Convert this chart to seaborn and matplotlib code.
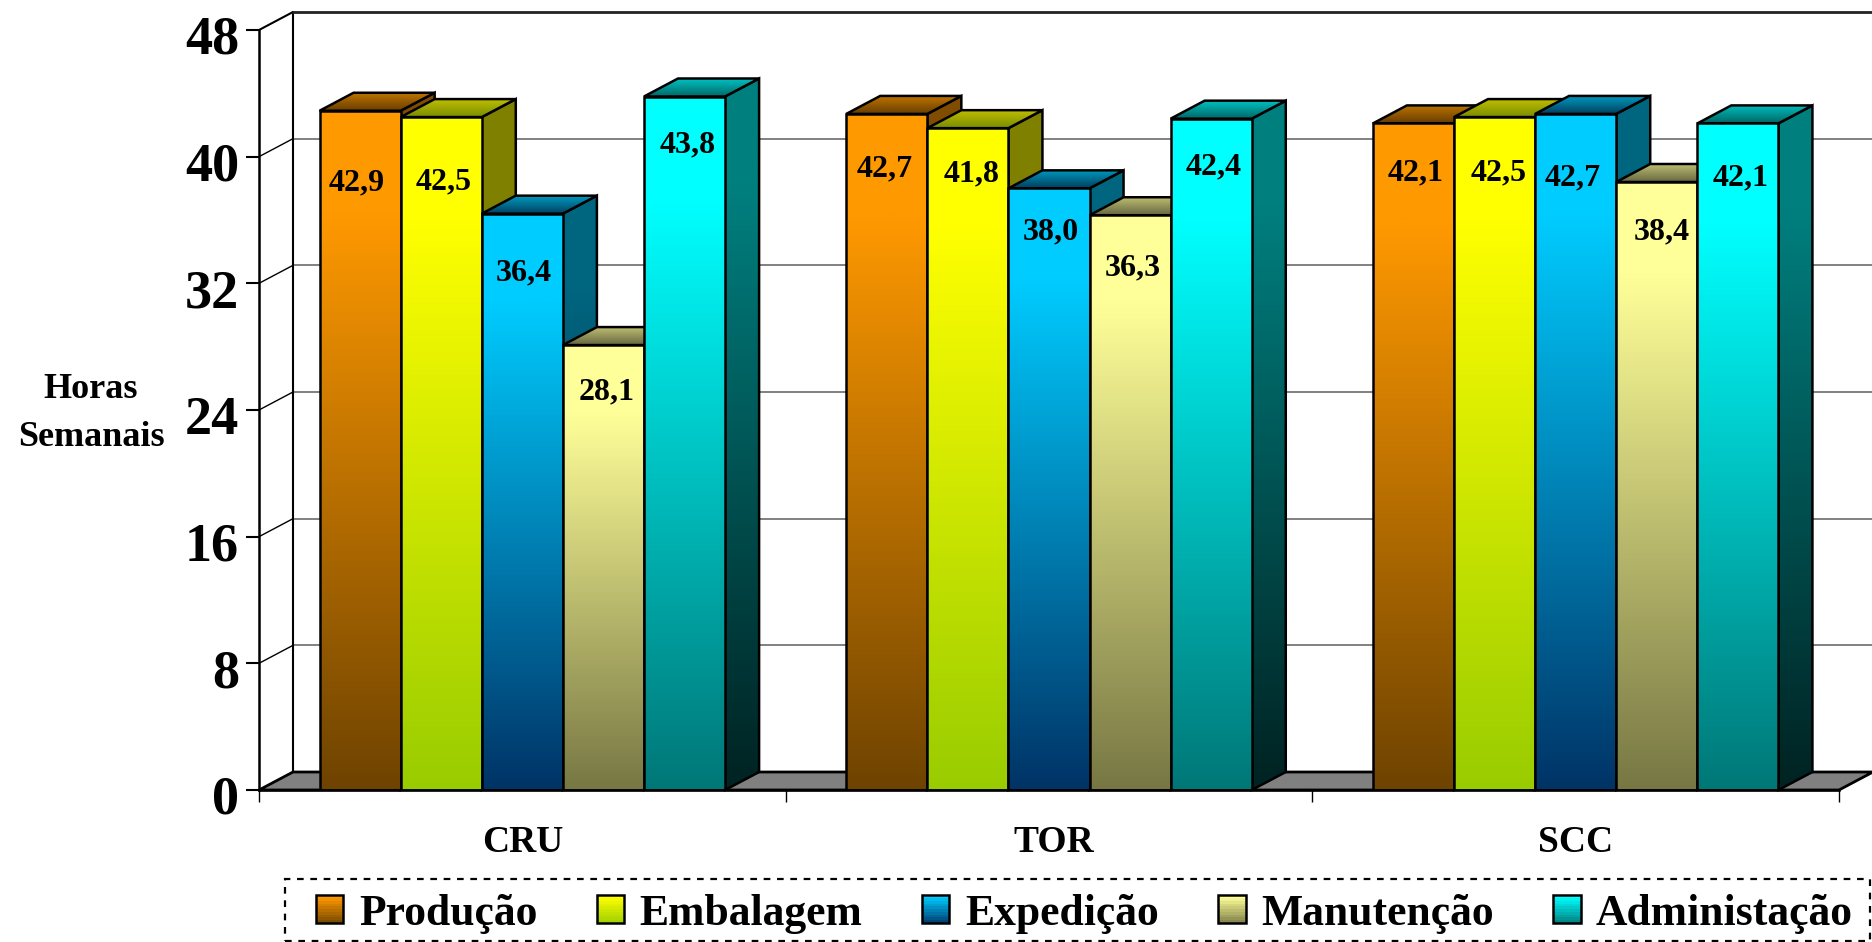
import numpy as np
import pandas as pd
import seaborn as sns
import matplotlib.pyplot as plt
from matplotlib.colors import to_rgb
from matplotlib.legend_handler import HandlerBase
from matplotlib.patches import Patch, Polygon, Rectangle
from matplotlib.transforms import ScaledTranslation

units = ['CRU', 'TOR', 'SCC']
sectors = ['Produção', 'Embalagem', 'Expedição', 'Manutenção', 'Administação']
producao = [42.9, 42.7, 42.1]
embalagem = [42.5, 41.8, 42.5]
expedicao = [36.4, 38.0, 42.7]
manutencao = [28.1, 36.3, 38.4]
administracao = [43.8, 42.4, 42.1]
value_labels = [
    ['42,9', '42,7', '42,1'],
    ['42,5', '41,8', '42,5'],
    ['36,4', '38,0', '42,7'],
    ['28,1', '36,3', '38,4'],
    ['43,8', '42,4', '42,1'],
]
yticks = [0, 8, 16, 24, 32, 40, 48]

# colours per sector: front top/bottom, side top/bottom, roof back/front
front_top = ['#FF9900', '#FFFF00', '#00CCFF', '#FFFF99', '#00FFFF']
front_bottom = ['#6E4300', '#99CC00', '#003366', '#777744', '#007777']
side_top = ['#804D00', '#808000', '#006680', '#808050', '#007F7F']
side_bottom = ['#2A1A00', '#4D6600', '#001A33', '#3C3C22', '#002222']
roof_back = ['#BF7300', '#BFBF00', '#0099BF', '#BFBF73', '#00BFBF']
roof_front = ['#663D00', '#7A8C00', '#003F5F', '#666640', '#006666']

# hand placement of the value labels, pixels from bar centre / bar top
label_dx = [[-3.7, -2.4, 2], [2.5, 3.7, 4.5], [1.5, 1.5, -2.5], [3, 3, 5], [3, 2, 2.7]]
label_dy = [[71.9, 54.5, 49.5], [64.4, 46.2, 56], [59.7, 43.2, 64], [46.5, 52.2, 49.5], [48, 48.7, 54.5]]

W, H = 1872, 942
LEFT, RIGHT, BOTTOM, TOP = 259, 1839, 790, 30


def gradient(c1, c2, flat=0.0):
    # colour stays at c1 for the first part of the fall, then runs down to c2
    t = np.clip((np.linspace(0, 1, 256) - flat) / (1 - flat), 0, 1)[:, None]
    return ((1 - t) * np.array(to_rgb(c1)) + t * np.array(to_rgb(c2))).reshape(256, 1, 3)


class GradientHandler(HandlerBase):
    def __init__(self, c1, c2):
        super().__init__()
        self.c1, self.c2 = c1, c2

    def create_artists(self, legend, orig_handle, xdescent, ydescent, width, height, fontsize, trans):
        out = []
        n = 10
        for i, col in enumerate(gradient(self.c1, self.c2)[::25][:n]):
            out.append(Rectangle((-xdescent, -ydescent + height * (n - 1 - i) / n), width, height / n,
                                 facecolor=col[0], edgecolor='none', transform=trans))
        out.append(Rectangle((-xdescent, -ydescent), width, height, facecolor='none',
                             edgecolor='black', linewidth=1.8, transform=trans))
        return out


sns.set_theme(style='white')
plt.rcParams['font.family'] = ['Liberation Serif', 'DejaVu Serif']
plt.rcParams['font.weight'] = 'bold'

df = pd.DataFrame({
    'unidade': units * 5,
    'setor': np.repeat(sectors, 3),
    'horas': producao + embalagem + expedicao + manutencao + administracao,
})

fig = plt.figure(figsize=(W / 100, H / 100), dpi=100, facecolor='white')
ax = fig.add_axes([LEFT / W, 1 - BOTTOM / H, (RIGHT - LEFT) / W, (BOTTOM - TOP) / H])
ax.set_facecolor('none')

sns.barplot(data=df, x='unidade', y='horas', hue='setor', palette=front_top, order=units,
            hue_order=sectors, width=0.77, gap=0, saturation=1, edgecolor='black',
            linewidth=1.8, legend=False, ax=ax)

x0, x1 = -0.5, 2.5
ymax = 48
DX = 34 / ((RIGHT - LEFT) / 3)
DY = 18 / ((BOTTOM - TOP) / ymax)

# back wall, side wall and floor
for t in yticks[1:-1]:
    ax.plot([x0 + DX, x1 + DX], [t + DY, t + DY], color='#808080', lw=1.4, zorder=1, clip_on=False)
for t in yticks[1:]:
    ax.plot([x0, x0 + DX], [t, t + DY], color='black', lw=1 if t < ymax else 1.5, zorder=1, clip_on=False)
ax.plot([x0 + DX, x0 + DX], [DY, ymax + DY], color='black', lw=1.5, zorder=1, clip_on=False)
ax.plot([x0 + DX, x1 + DX], [ymax + DY, ymax + DY], color='#222222', lw=2, zorder=1, clip_on=False)
ax.add_patch(Polygon([(x0, 0), (x0 + DX, DY), (x1 + DX, DY), (x1, 0)], closed=True, facecolor='#808080',
                     edgecolor='black', lw=2, zorder=1.5, clip_on=False))


def shaded_poly(points, colours, z):
    pts = np.array(points)
    poly = Polygon(pts, closed=True, facecolor='none', edgecolor='black', lw=1.8, zorder=z + 0.01, clip_on=False)
    ax.add_patch(poly)
    im = ax.imshow(colours, extent=(pts[:, 0].min(), pts[:, 0].max(), pts[:, 1].min(), pts[:, 1].max()),
                   aspect='auto', origin='upper', zorder=z)
    im.set_clip_path(poly)
    im.set_clip_box(fig.bbox)


# 3d faces hung on the seaborn bars, drawn left to right so neighbours overlap
for h, cont in enumerate(ax.containers):
    for g, bar in enumerate(cont.patches):
        bx, bw, v = bar.get_x(), bar.get_width(), bar.get_height()
        z = 3 + (g * 5 + h) * 0.1
        shaded_poly([(bx + bw, 0), (bx + bw + DX, DY), (bx + bw + DX, v + DY), (bx + bw, v)],
                    gradient(side_top[h], side_bottom[h], 0.15), z)
        shaded_poly([(bx, v), (bx + DX, v + DY), (bx + bw + DX, v + DY), (bx + bw, v)],
                    gradient(roof_back[h], roof_front[h]), z + 0.02)
        im = ax.imshow(gradient(front_top[h], front_bottom[h], 0.15), extent=(bx, bx + bw, 0, v),
                       aspect='auto', origin='upper', zorder=z + 0.04)
        im.set_clip_path(bar)
        bar.set_facecolor('none')
        bar.set_zorder(z + 0.05)
        ax.annotate(value_labels[h][g], (bx + bw / 2, v),
                    xytext=(label_dx[h][g], -label_dy[h][g]), textcoords='offset pixels',
                    ha='center', va='center', fontsize=23, fontweight='bold', color='black', zorder=20)

ax.set_xlim(x0, x1)
ax.set_ylim(0, ymax)
ax.set_xlabel('')
ax.set_ylabel('')
ax.set_yticks(yticks)
ax.set_xticks([-0.5, 0.5, 1.5, 2.5], minor=True)
ax.tick_params(axis='y', which='major', left=True, length=9.4, width=1.5, color='black', pad=5,
               labelsize=39, labelcolor='black')
ax.tick_params(axis='x', which='major', length=0, pad=25, labelsize=27, labelcolor='black')
ax.tick_params(axis='x', which='minor', bottom=True, length=8.6, width=1, color='black')
for lab in ax.get_yticklabels():
    lab.set_fontweight('bold')
    lab.set_transform(lab.get_transform() + ScaledTranslation(0, -5 / 100, fig.dpi_scale_trans))
for lab in ax.get_xticklabels():
    lab.set_fontweight('bold')
    if lab.get_text() == 'TOR':
        lab.set_transform(lab.get_transform() + ScaledTranslation(5 / 100, 0, fig.dpi_scale_trans))

for name in ['top', 'right']:
    ax.spines[name].set_visible(False)
for name in ['left', 'bottom']:
    ax.spines[name].set_visible(True)
    ax.spines[name].set_color('black')
    ax.spines[name].set_linewidth(1.8)
    ax.spines[name].set_zorder(15)

fig.text(91 / W, 1 - 414 / H, 'Horas\nSemanais', ha='center', va='center', fontsize=26,
         fontweight='bold', color='black', linespacing=1.6)

handles = [Patch(facecolor=c, label=s) for c, s in zip(front_top, sectors)]
hmap = {p: GradientHandler(front_top[i], front_bottom[i]) for i, p in enumerate(handles)}
leg = fig.legend(handles=handles, handler_map=hmap, ncol=5, loc='lower left',
                 bbox_to_anchor=(316 / W, 1 - 933.5 / H), bbox_transform=fig.transFigure,
                 prop={'family': 'Liberation Serif', 'weight': 'bold', 'size': 31.4},
                 handlelength=0.63, handleheight=0.6, handletextpad=0.357, columnspacing=1.36,
                 borderpad=0, borderaxespad=0, frameon=False, labelcolor='black')

# dashed box round the legend, taller and wider than the entries need
fig.add_artist(Rectangle((285 / W, 1 - 941 / H), (1870 - 285) / W, 62 / H, transform=fig.transFigure,
                         facecolor='none', edgecolor='black', linewidth=1.6, linestyle=(0, (3, 3))))

plt.savefig('out.png', dpi=100)
